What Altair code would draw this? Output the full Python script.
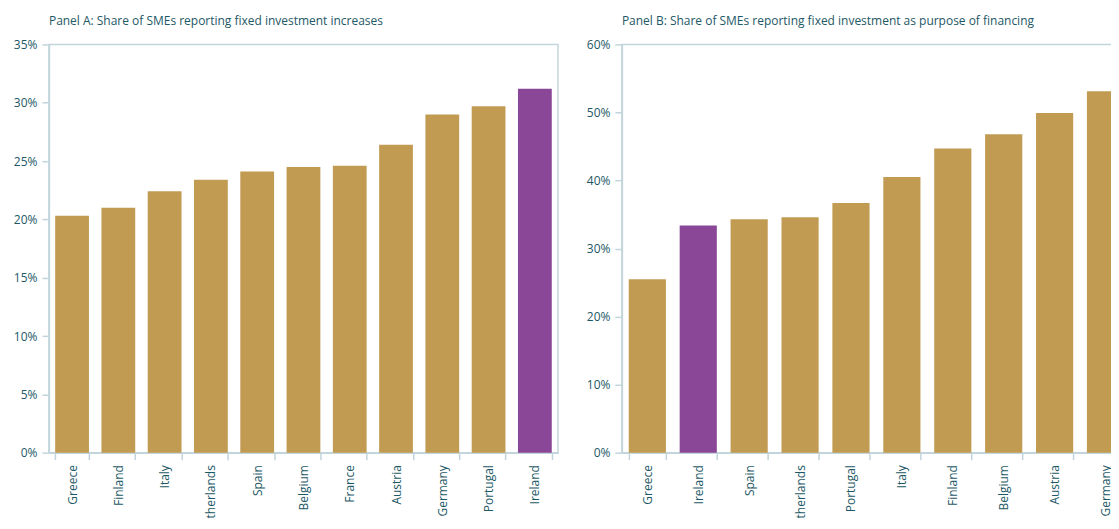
import altair as alt
import pandas as pd

countries_a = ["Greece", "Finland", "Italy", "Netherlands", "Spain", "Belgium",
               "France", "Austria", "Germany", "Portugal", "Ireland"]
values_a = [20.3, 21.0, 22.4, 23.4, 24.1, 24.5, 24.6, 26.4, 29.0, 29.7, 31.2]

countries_b = ["Greece", "Ireland", "Spain", "Netherlands", "Portugal", "Italy",
               "Finland", "Belgium", "Austria", "Germany"]
values_b = [25.5, 33.4, 34.3, 34.6, 36.7, 40.5, 44.7, 46.8, 49.9, 53.1]

ticks_a = [0, 5, 10, 15, 20, 25, 30, 35]
ticks_b = [0, 10, 20, 30, 40, 50, 60]

title_a = "Panel A: Share of SMEs reporting fixed investment increases"
title_b = "Panel B: Share of SMEs reporting fixed investment as purpose of financing"

GOLD = "#c29b53"
PURPLE = "#8b4797"
TEXT = "#1d5866"
LINE = "#c3d5dc"
FONT = "Open Sans"


def panel(countries, values, ticks, title):
    df = pd.DataFrame({"country": countries, "value": [v / 100 for v in values]})
    df["hl"] = df["country"] == "Ireland"
    top = ticks[-1] / 100
    return alt.Chart(df, title=alt.TitleParams(
        title, anchor="start", frame="group", fontSize=12, font=FONT,
        fontWeight="normal", color=TEXT, offset=10)).mark_bar().encode(
        x=alt.X("country:N", sort=countries,
                scale=alt.Scale(paddingInner=0.27, paddingOuter=0.135),
                axis=alt.Axis(title=None, labelAngle=-90, tickBand="extent",
                              labelPadding=5, tickSize=7, labelOverlap=False)),
        y=alt.Y("value:Q", scale=alt.Scale(domain=[0, top], nice=False),
                axis=alt.Axis(title=None, format=".0%", grid=False,
                              values=[t / 100 for t in ticks], labelOverlap=False,
                              tickSize=7, labelPadding=5)),
        color=alt.Color("hl:N", scale=alt.Scale(domain=[False, True], range=[GOLD, PURPLE]),
                        legend=None),
    ).properties(width=510, height=409)


chart = alt.hconcat(
    panel(countries_a, values_a, ticks_a, title_a),
    panel(countries_b, values_b, ticks_b, title_b),
    spacing=26,
).configure(padding={"left": 4, "top": 6, "right": -21, "bottom": -16}).configure_view(
    stroke=LINE, strokeWidth=1.5
).configure_axis(
    labelFont=FONT, labelFontSize=12, labelColor=TEXT,
    domainColor=LINE, tickColor=LINE, domainWidth=1.5, tickWidth=1.5,
)

chart.save("out.html", embed_options={"renderer": "svg", "actions": False})
